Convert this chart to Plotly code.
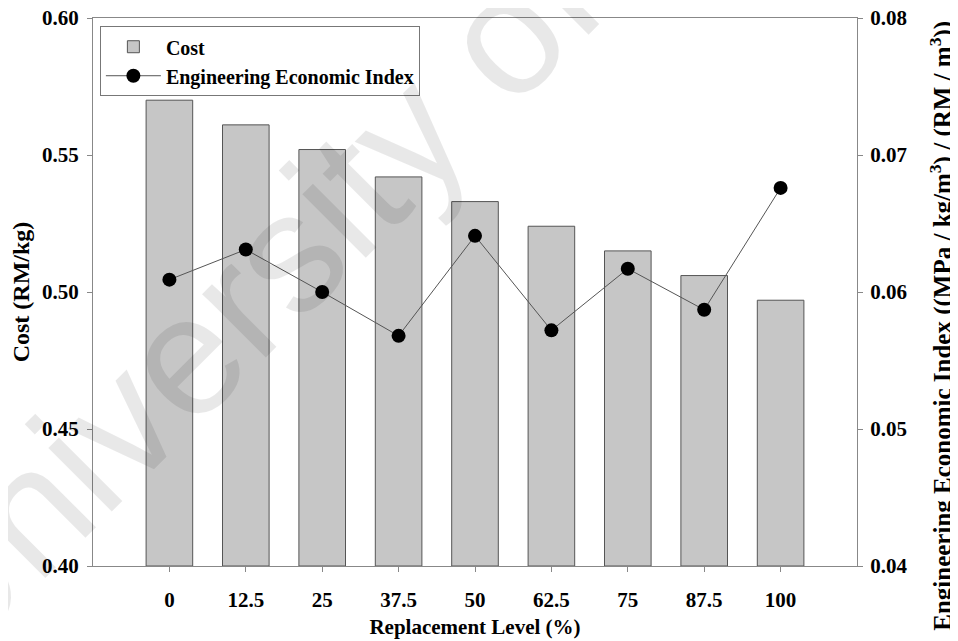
import plotly.graph_objects as go

levels = ["0", "12.5", "25", "37.5", "50", "62.5", "75", "87.5", "100"]
cost = [0.570, 0.561, 0.552, 0.542, 0.533, 0.524, 0.515, 0.506, 0.497]
eei = [0.0609, 0.0631, 0.0600, 0.0568, 0.0641, 0.0572, 0.0617, 0.0587, 0.0676]

pos = list(range(len(levels)))
serif = "Liberation Serif, Times New Roman, serif"


def bold(size):
    return dict(family=serif, size=size, color="black", weight="bold")


fig = go.Figure()

fig.add_trace(
    go.Bar(
        x=pos, y=[c - 0.40 for c in cost], base=0.40, name="Cost", width=0.61,
        marker=dict(color="#c6c6c6", line=dict(color="#555555", width=1)),
    )
)

fig.add_trace(
    go.Scatter(
        x=pos, y=eei, name="Engineering Economic Index", yaxis="y2",
        mode="lines+markers",
        line=dict(color="#555555", width=1),
        marker=dict(color="black", size=14),
    )
)

axis_common = dict(
    showline=True, linecolor="#888888", linewidth=1,
    ticks="outside", ticklen=5, tickcolor="#888888",
    showgrid=False, zeroline=False, tickfont=bold(21),
    ticklabeloverflow="allow",
)

# page body has an 8px margin, so margins are shifted to keep the plot in place
fig.update_layout(
    width=958, height=641,
    margin=dict(l=85, r=109, t=10, b=83, autoexpand=False),
    plot_bgcolor="white", paper_bgcolor="white",
    font=bold(20),
    showlegend=True,
    legend=dict(
        x=0.009, y=0.985, xanchor="left", yanchor="top",
        bordercolor="#777777", borderwidth=1, bgcolor="white",
        font=bold(20), tracegroupgap=0, itemwidth=55,
    ),
    xaxis=dict(
        range=[-1, 9], tickmode="array", tickvals=pos, ticktext=levels,
        mirror=True, ticklabelstandoff=10,
        title=dict(text="Replacement Level (%)", font=bold(21), standoff=8),
        **axis_common,
    ),
    yaxis=dict(
        range=[0.40, 0.60], tickvals=[0.40, 0.45, 0.50, 0.55, 0.60],
        tickformat=".2f", ticklabelstandoff=4,
        title=dict(text="Cost (RM/kg)", font=bold(24), standoff=12),
        **axis_common,
    ),
    yaxis2=dict(
        range=[0.04, 0.08], tickvals=[0.04, 0.05, 0.06, 0.07, 0.08],
        tickformat=".2f", overlaying="y", side="right", ticklabelstandoff=3,
        **axis_common,
    ),
)

# right axis title placed by hand (it sits lower than the plot centre)
fig.add_annotation(
    text="Engineering Economic Index ((MPa / kg/m<sup>3</sup>) / (RM / m<sup>3</sup>))",
    xref="paper", yref="paper", x=1.111, y=0.438,
    xanchor="center", yanchor="middle", textangle=-90,
    showarrow=False, font=bold(25),
)

# faint watermark across the figure
fig.add_annotation(
    text="University of Malaya", xref="paper", yref="paper",
    x=0.467, y=0.869, xanchor="center", yanchor="middle",
    showarrow=False, textangle=-45,
    font=dict(family="Liberation Sans, Arial, sans-serif", size=170,
              color="rgba(0,0,0,0.09)", weight="normal"),
)

fig.write_html("out.html")
